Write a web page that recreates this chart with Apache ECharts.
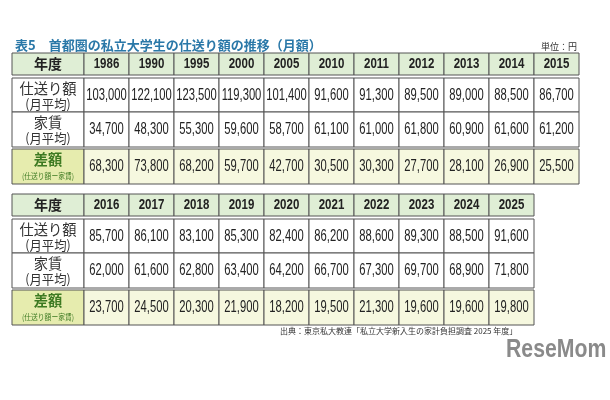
<!DOCTYPE html>
<html><head><meta charset="utf-8">
<script src="https://cdn.jsdelivr.net/npm/echarts@6/dist/echarts.min.js"></script>
<style>html,body{margin:0;background:#fff}#c{width:610px;height:400px}</style>
</head><body><div id="c"></div>
<script>
const years1 = ['1986','1990','1995','2000','2005','2010','2011','2012','2013','2014','2015'];
const allowance1 = [103000,122100,123500,119300,101400,91600,91300,89500,89000,88500,86700];
const rent1 = [34700,48300,55300,59600,58700,61100,61000,61800,60900,61600,61200];
const diff1 = [68300,73800,68200,59700,42700,30500,30300,27700,28100,26900,25500];
const years2 = ['2016','2017','2018','2019','2020','2021','2022','2023','2024','2025'];
const allowance2 = [85700,86100,83100,85300,82400,86200,88600,89300,88500,91600];
const rent2 = [62000,61600,62800,63400,64200,66700,67300,69700,68900,71800];
const diff2 = [23700,24500,20300,21900,18200,19500,21300,19600,19600,19800];
const rowLabels = [['年度',''],['仕送り額','(月平均)'],['家賃','(月平均)'],['差額','(仕送り額ー家賃)']];

const colEdges = n => [0,72].concat(Array.from({length:n},(_, i)=>72+45*(i+1)));
const rowEdges = [[0,22],[25,59],[59,94],[96,131]];
const fmt = v => v.toLocaleString('en-US');

function cells(years){
  const out=[];
  const ce=colEdges(years.length);
  for(let ri=0;ri<4;ri++){
    out.push([ce[0],ce[1],rowEdges[ri][0],rowEdges[ri][1],ri,-1]);
    years.forEach((t,ci)=>out.push([ce[ci+1],ce[ci+2],rowEdges[ri][0],rowEdges[ri][1],ri,ci]));
  }
  return out;
}
function txt(x,y,text,font,fill,sx){
  return {type:'text',x:x,y:y,scaleX:sx||1,style:{x:0,y:0,text:text,align:'center',verticalAlign:'middle',font:font,fill:fill}};
}
function render(texts){
  return function(params, api){
    const x0=api.value(0),x1=api.value(1),y0=api.value(2),y1=api.value(3),ri=api.value(4),ci=api.value(5);
    const p0=api.coord([x0,y0]), p1=api.coord([x1,y1]);
    let fill='#ffffff';
    if(ri===0) fill='#dfeed5';
    if(ri===3) fill = ci<0 ? '#e6ecae' : '#f6f8df';
    const children=[{type:'rect',shape:{x:p0[0],y:p0[1],width:p1[0]-p0[0],height:p1[1]-p0[1]},
      style:{fill:fill,stroke:'#555',lineWidth:1}}];
    const cx=(p0[0]+p1[0])/2, cy=(p0[1]+p1[1])/2;
    if(ci<0){
      const lab=rowLabels[ri];
      const col = ri===3?'#3d7a22':'#333';
      if(lab[1]){
        children.push(txt(cx,cy-7,lab[0],(ri===3?'bold ':'')+'15px "Noto Sans CJK JP"',col,0.95));
        children.push(txt(cx,cy+9,lab[1],(ri===3?'8px':'13px')+' "Noto Sans CJK JP"',col,ri===3?0.85:0.95));
      } else {
        children.push(txt(cx,cy,lab[0],'bold 14px "Noto Sans CJK JP"','#222'));
      }
    } else {
      const t=texts[ri][ci];
      children.push(txt(cx,cy,t,(ri===0?'bold 14px':'17px')+' "Liberation Sans",sans-serif','#222',ri===0?0.82:0.66));
    }
    return {type:'group',children};
  };
}
const chart=echarts.init(document.getElementById('c'),null,{renderer:'canvas'});
const t1=[years1,allowance1.map(fmt),rent1.map(fmt),diff1.map(fmt)];
const t2=[years2,allowance2.map(fmt),rent2.map(fmt),diff2.map(fmt)];
const ax = (g,max)=>({type:'value',gridIndex:g,min:0,max:max,show:false});
chart.setOption({
  animation:false,
  title:[{text:'表5　首都圏の私立大学生の仕送り額の推移（月額）',left:10,top:34,
    textStyle:{fontSize:13,fontWeight:'bold',color:'#2a78a8',fontFamily:'"Noto Sans CJK JP"'}},
    {text:'単位：円',left:536,top:37,textStyle:{fontSize:9,fontWeight:'normal',color:'#333',fontFamily:'"Noto Sans CJK JP"'}}],
  grid:[{left:12,top:53,width:567,height:131},{left:12,top:194,width:522,height:131}],
  xAxis:[ax(0,567),ax(1,522)],
  yAxis:[Object.assign(ax(0,131),{inverse:true}),Object.assign(ax(1,131),{inverse:true})],
  series:[
    {type:'custom',xAxisIndex:0,yAxisIndex:0,clip:false,data:cells(years1),renderItem:render(t1)},
    {type:'custom',xAxisIndex:1,yAxisIndex:1,clip:false,data:cells(years2),renderItem:render(t2)}
  ],
  graphic:[
    {type:'text',left:280,top:327,style:{text:'出典：東京私大教連「私立大学新入生の家計負担調査 2025 年度」',font:'8px "Noto Sans CJK JP"',fill:'#333'}},
    {type:'text',left:506,top:338,scaleX:0.85,style:{text:'ReseMom',font:'bold 25px "Liberation Sans"',fill:'#8a8a8a'}}
  ]
});
</script></body></html>
